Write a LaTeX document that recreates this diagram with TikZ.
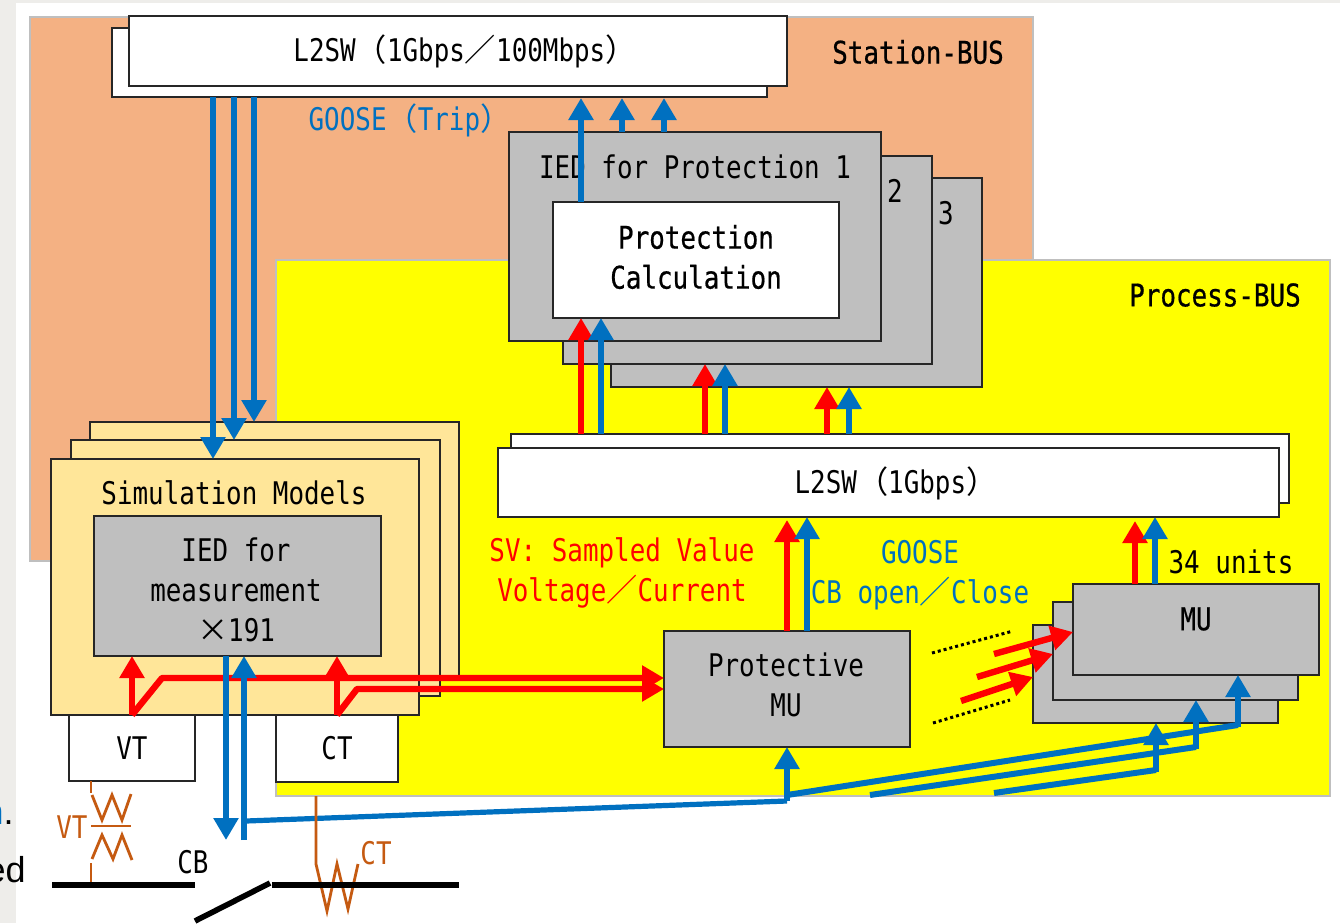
\documentclass[tikz,border=0pt]{standalone}
\usepackage{fontspec}
\setmainfont{DejaVu Sans Mono}[FakeStretch=0.83]
\newfontfamily\hvy{DejaVu Sans Mono}[FakeStretch=0.83,FakeBold=0.6]
\newfontfamily\cjk{Noto Sans CJK JP}
\newfontfamily\arialf{Liberation Sans}
\usetikzlibrary{arrows.meta,calc}
\definecolor{stripc}{HTML}{EEEDEA}
\definecolor{station}{HTML}{F4B183}
\definecolor{procbus}{HTML}{FFFF00}
\definecolor{simc}{HTML}{FFE699}
\definecolor{greyc}{HTML}{BFBFBF}
\definecolor{bluec}{HTML}{0070C0}
\definecolor{redc}{HTML}{FF0000}
\definecolor{brownc}{HTML}{C55A11}
\definecolor{edgec}{HTML}{262626}
\newcommand{\bx}[6]{%
  \pgfmathsetmacro{\bxw}{(#4-#2)*0.5}%
  \pgfmathsetmacro{\bxh}{(#5-#3)*0.5}%
  \node[#6,minimum width=\bxw pt,minimum height=\bxh pt] (#1) at ({(#2+#4)/2},{(#3+#5)/2})}
\tikzset{
  x=0.5pt,y=-0.5pt,
  rectb/.style={draw=edgec,line width=1pt,inner sep=0pt,outer sep=0pt,align=center,font=\txt},
  whiteb/.style={rectb,fill=white},
  greyb/.style={rectb,fill=greyc},
  simb/.style={rectb,fill=simc},
  busb/.style={draw=greyc,line width=0.7pt,inner sep=0pt,outer sep=0pt},
  lbl/.style={inner sep=0pt,outer sep=0pt,align=center,font=\txt},
  bluea/.style={draw=bluec,line width=3pt,-{Triangle[length=11pt,width=12pt]}},
  reda/.style={draw=redc,line width=3.2pt,-{Triangle[length=11pt,width=12pt]}},
  bluel/.style={draw=bluec,line width=3pt,line join=bevel},
  brown/.style={draw=brownc,line width=1.4pt},
  barl/.style={draw=black,line width=2.8pt},
  dots/.style={draw=black,line width=1.5pt,dash pattern=on 1.5pt off 1.5pt}
}
\newcommand{\txt}{\fontsize{15.6}{20}\selectfont}
\begin{document}
\begin{tikzpicture}
\useasboundingbox (0,0) rectangle (1340,923);
\fill[white] (0,0) rectangle (1340,923);
\fill[stripc] (0,0) rectangle (16,923);
\fill[stripc] (0,0) rectangle (1340,3);
\node[anchor=base east,inner sep=0pt,font=\arialf\fontsize{18}{20}\selectfont] (frag1) at (14,824) {\textcolor{bluec}{n}.};
\node[anchor=base east,inner sep=0pt,font=\arialf\fontsize{18}{20}\selectfont] (frag2) at (26,882) {ed};

% buses
\bx{stn}{30}{17}{1033}{561}{busb,fill=station}{};
\bx{prc}{276}{260}{1330}{796}{busb,fill=procbus}{};
\node[lbl,font=\txt\hvy] (stnlbl) at (918,52) {Station-BUS};
\node[lbl,font=\txt\hvy] (prclbl) at (1215,295) {Process-BUS};

% top switch
\bx{topr}{112}{28}{767}{97}{whiteb}{};
\bx{topf}{129}{16}{787}{86}{whiteb}{\hspace*{7pt}L2SW{\cjk（}1Gbps{\cjk／}100Mbps{\cjk）}};
\node[lbl,text=bluec] (goosetrip) at (410,120) {GOOSE{\cjk（}Trip{\cjk）}};

% protection IEDs
\bx{iedc}{611}{178}{982}{387}{greyb}{};
\bx{iedb}{563}{156}{932}{364}{greyb}{};
\bx{ieda}{509}{132}{881}{341}{greyb}{};
\node[lbl] (iedt) at (695,167) {IED for Protection 1};
\node[lbl] (n2) at (895,191) {2};
\node[lbl] (n3) at (946,213) {3};
\bx{calc}{553}{202}{839}{318}{whiteb}{};
\node[lbl,font=\txt\hvy] (calct) at (696,257) {Protection\\Calculation};

% lower switch
\bx{lowr}{511}{434}{1289}{503}{whiteb}{};
\bx{lowf}{498}{448}{1279}{517}{whiteb}{};
\node[lbl] (lowt) at (896,483) {L2SW{\cjk（}1Gbps{\cjk）}};

% simulation models
\bx{simc3}{90}{422}{459}{677}{simb}{};
\bx{simb2}{71}{440}{440}{696}{simb}{};
\bx{sima}{51}{459}{419}{715}{simb}{};
\node[lbl] (simt) at (234,493) {Simulation Models};
\bx{meas}{94}{516}{381}{656}{greyb}{};
\node[lbl] (meast) at (236,590) {IED for\\measurement\\{\cjk ×}191};
\bx{vt}{69}{715}{195}{781}{whiteb}{VT};
\bx{ct}{276}{715}{398}{782}{whiteb}{CT};

% MUs
\bx{pmu}{664}{631}{910}{747}{greyb}{};
\node[lbl] (pmut) at (786,685) {Protective\\MU};
\bx{muc}{1033}{625}{1278}{723}{greyb}{};
\bx{mub}{1053}{602}{1298}{700}{greyb}{};
\bx{mua}{1073}{584}{1319}{675}{greyb}{};
\node[lbl,font=\txt\hvy] (mut) at (1196,619) {MU};

% labels
\node[lbl,text=redc] (svt) at (622,573) {SV: Sampled Value\\Voltage{\cjk／}Current};
\node[lbl,text=bluec] (got) at (920,575) {GOOSE\\CB open{\cjk／}Close};
\node[lbl] (units) at (1231,562) {34 units};

% top blue arrows
\draw[bluea] (581,0 |- calc.north) -- (581,98);
\draw[bluea] (622,0 |- ieda.north) -- (622,98);
\draw[bluea] (664,0 |- ieda.north) -- (664,98);
\draw[bluea] (213,0 |- topr.south) -- (213,0 |- sima.north);
\draw[bluea] (234,0 |- topr.south) -- (234,0 |- simb2.north);
\draw[bluea] (254,0 |- topr.south) -- (254,0 |- simc3.north);

% into IEDs
\draw[reda] (581,0 |- lowr.north) -- (581,0 |- calc.south);
\draw[bluea] (601,0 |- lowr.north) -- (601,0 |- calc.south);
\draw[reda] (705,0 |- lowr.north) -- (705,0 |- iedb.south);
\draw[bluea] (725,0 |- lowr.north) -- (725,0 |- iedb.south);
\draw[reda] (827,0 |- lowr.north) -- (827,0 |- iedc.south);
\draw[bluea] (849,0 |- lowr.north) -- (849,0 |- iedc.south);

% into lower switch
\draw[reda] (787,0 |- pmu.north) -- (787,520);
\draw[bluea] (807,0 |- pmu.north) -- (807,0 |- lowf.south);
\draw[reda] (1135,0 |- mua.north) -- (1135,521);
\draw[bluea] (1155,0 |- mua.north) -- (1155,0 |- lowf.south);

% red from VT/CT
\coordinate (vtr) at (132,0 |- vt.north);
\coordinate (ctr) at (337,0 |- ct.north);
\draw[reda] (vtr) -- (132,0 |- meas.south);
\draw[reda] (ctr) -- (337,0 |- meas.south);
\draw[reda,line join=bevel] (vtr) -- (162,678) -- (664,678);
\draw[reda,line join=bevel] (ctr) -- (357,689) -- (664,689);

% red into MUs
\draw[reda] (994,654) -- (mua.west |- 0,632);
\draw[reda] (977,677) -- (mub.west |- 0,654);
\draw[reda] (961,701) -- (muc.west |- 0,677);
\draw[dots] (932,653) -- (1013,631);
\draw[dots] (933,723) -- (1010,700);

% blue GOOSE
\coordinate (bdown) at (226,840);
\coordinate (bfoot) at (244,840);
\coordinate (bj) at (787,801);
\draw[bluea] (226,0 |- meas.south) -- (bdown);
\draw[bluea] (bfoot) -- (244,0 |- meas.south);
\draw[bluel,line width=2.6pt] (246,821) -- (bj);
\draw[bluea] (bj) -- (bj |- pmu.south);
\draw[bluel] (787,795) -- (1238,725);
\draw[bluea] (1238,727) -- (1238,0 |- mua.south);
\draw[bluel] (870,795) -- (1196,747);
\draw[bluea] (1196,749) -- (1196,0 |- mub.south);
\draw[bluel] (994,793) -- (1156,770);
\draw[bluea] (1156,772) -- (1156,0 |- muc.south);

% VT symbol
\draw[brown] (91,0 |- vt.south) -- (91,793);
\draw[brown] (92,795) -- (102,820) -- (112,795) -- (122,820) -- (131,794);
\draw[brown] (91,826) -- (131,826);
\draw[brown] (92,859) -- (102,835) -- (113,859) -- (122,835) -- (132,860);
\draw[brown] (91,863) -- (91,884);
\node[lbl,text=brownc] (vtl) at (72,827) {VT};

% CT symbol
\draw[brown] (316,0 |- prc.south) -- (316,864) -- (327,911) -- (337,864) -- (348,909) -- (358,864);
\node[lbl,text=brownc] (ctl) at (376,853) {CT};

% line & breaker
\draw[barl] (52,885) -- (195,885);
\draw[barl] (272,885) -- (459,885);
\draw[barl] (195,921) -- (270,883);
\node[lbl] (cbl) at (193,862) {CB};
\end{tikzpicture}
\end{document}
